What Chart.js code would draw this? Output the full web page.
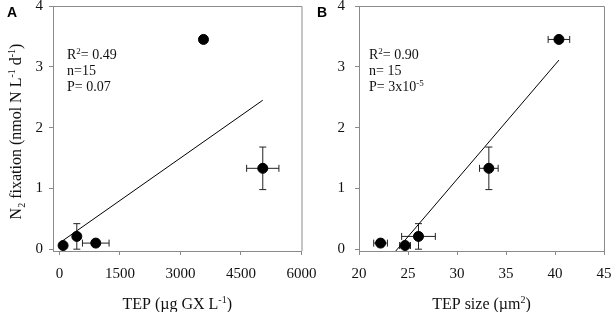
<!DOCTYPE html>
<html>
<head>
<meta charset="utf-8">
<script src="https://cdn.jsdelivr.net/npm/chart.js@4/dist/chart.umd.min.js"></script>
<style>
  body { margin: 0; background: #fff; }
  #page { position: relative; width: 612px; height: 312px; overflow: hidden; background: #fff; }
  .panel { position: absolute; top: 0; height: 312px; }
  #wrapA { left: 0; width: 330px; }
  #wrapB { left: 300px; width: 312px; }
</style>
</head>
<body>
<div id="page">
  <div class="panel" id="wrapA"><canvas id="chartA" width="330" height="312"></canvas></div>
  <div class="panel" id="wrapB"><canvas id="chartB" width="312" height="312"></canvas></div>
</div>
<script>
// samples (same five stations in both panels)
const tepConc = [90, 430, 900, 5040, 3570];          // µg GX L-1
const tepConcErr = [0, 0, 330, 400, 0];
const tepSize = [24.7, 26.07, 22.2, 33.25, 40.4];    // µm2
const tepSizeErr = [0.55, 1.72, 0.7, 0.95, 1.1];
const n2Fix = [0.06, 0.21, 0.10, 1.33, 3.45];        // nmol N L-1 d-1
const n2FixErr = [0, 0.21, 0, 0.35, 0];

// regression lines, end points
const fitAx = [60, 5040];
const fitAy = [0.13, 2.45];
const fitBx = [23.75, 40.4];
const fitBy = [-0.03, 3.11];

const xTicksA = [0, 1500, 3000, 4500, 6000];
const xTicksB = [20, 25, 30, 35, 40, 45];
const yTicks = [0, 1, 2, 3, 4];

const SERIF = '"Liberation Serif", "Times New Roman", serif';
const FRAME = '#8a8a8a';

function pts(xs, ys) { return xs.map((x, i) => ({ x: x, y: ys[i] })); }

// draws text with superscript (1) / subscript (-1) parts
function drawRich(ctx, parts, x, y, size, align) {
  const small = Math.round(size * 0.62);
  let w = 0;
  parts.forEach(p => {
    ctx.font = (p[1] ? small : size) + 'px ' + SERIF;
    w += ctx.measureText(p[0]).width;
  });
  let cx = align === 'center' ? x - w / 2 : x;
  ctx.textAlign = 'left';
  ctx.textBaseline = 'alphabetic';
  parts.forEach(p => {
    const s = p[1] ? small : size;
    ctx.font = s + 'px ' + SERIF;
    const dy = p[1] === 1 ? -size * 0.38 : (p[1] === -1 ? size * 0.22 : 0);
    ctx.fillText(p[0], cx, y + dy);
    cx += ctx.measureText(p[0]).width;
  });
}

function panelPlugin(p) {
  return {
    id: 'panel' + p.letter,
    beforeDatasetsDraw(chart) {
      const ctx = chart.ctx;
      const sx = chart.scales.x, sy = chart.scales.y;
      ctx.save();
      ctx.strokeStyle = '#222';
      ctx.lineWidth = 1;
      p.xs.forEach((xv, i) => {
        const px = sx.getPixelForValue(xv);
        const py = sy.getPixelForValue(p.ys[i]);
        const ye = p.yerr[i], xe = p.xerr[i];
        ctx.beginPath();
        if (ye) {
          const y1 = sy.getPixelForValue(p.ys[i] - ye), y2 = sy.getPixelForValue(p.ys[i] + ye);
          ctx.moveTo(px, y1); ctx.lineTo(px, y2);
          ctx.moveTo(px - 3.5, y1); ctx.lineTo(px + 3.5, y1);
          ctx.moveTo(px - 3.5, y2); ctx.lineTo(px + 3.5, y2);
        }
        if (xe) {
          const x1 = sx.getPixelForValue(xv - xe), x2 = sx.getPixelForValue(xv + xe);
          ctx.moveTo(x1, py); ctx.lineTo(x2, py);
          ctx.moveTo(x1, py - 3.5); ctx.lineTo(x1, py + 3.5);
          ctx.moveTo(x2, py - 3.5); ctx.lineTo(x2, py + 3.5);
        }
        ctx.stroke();
      });
      ctx.restore();
    },
    afterDraw(chart) {
      const ctx = chart.ctx;
      const a = chart.chartArea;
      ctx.save();
      // top and right frame
      ctx.strokeStyle = FRAME;
      ctx.lineWidth = 1;
      ctx.beginPath();
      ctx.moveTo(a.left, a.top + 0.5); ctx.lineTo(a.right + 0.5, a.top + 0.5);
      ctx.lineTo(a.right + 0.5, a.bottom);
      ctx.stroke();

      ctx.fillStyle = '#000';
      ctx.font = 'bold 14px "Liberation Sans", Arial, sans-serif';
      ctx.textAlign = 'left';
      ctx.textBaseline = 'alphabetic';
      ctx.fillText(p.letter, p.letterX, 17);

      ctx.fillStyle = '#111';
      p.notes.forEach((line, i) => drawRich(ctx, line, p.noteX, 59 + i * 16, 14, 'left'));

      drawRich(ctx, p.xTitle, (a.left + a.right) / 2, 309, 16, 'center');

      if (p.yTitle) {
        ctx.translate(21, (a.top + a.bottom) / 2 + 3);
        ctx.rotate(-Math.PI / 2);
        drawRich(ctx, p.yTitle, 0, 0, 16, 'center');
      }
      ctx.restore();
    }
  };
}

function makeChart(id, p) {
  return new Chart(document.getElementById(id), {
    type: 'scatter',
    data: {
      datasets: [
        {
          type: 'line',
          data: pts(p.fitX, p.fitY),
          borderColor: '#000',
          borderWidth: 1,
          pointRadius: 0,
          fill: false
        },
        {
          data: pts(p.xs, p.ys),
          backgroundColor: '#000',
          borderColor: '#000',
          pointRadius: 5,
          pointHoverRadius: 5
        }
      ]
    },
    options: {
      responsive: false,
      animation: false,
      events: [],
      layout: { padding: { left: 0, top: 5, right: p.padRight, bottom: 0 } },
      plugins: { legend: { display: false }, tooltip: { enabled: false } },
      scales: {
        x: {
          type: 'linear',
          min: p.xMin, max: p.xMax,
          afterBuildTicks: s => { s.ticks = p.xTicks.map(v => ({ value: v })); },
          afterFit: s => { s.height = 61; s.paddingLeft = 0; s.paddingRight = 0; },
          grid: { drawOnChartArea: false, tickLength: 4, color: FRAME },
          border: { color: FRAME },
          ticks: {
            autoSkip: false, maxRotation: 0, padding: 10, color: '#111',
            font: { family: SERIF, size: 15 },
            callback: v => String(v)
          }
        },
        y: {
          min: -0.03, max: 4,
          afterBuildTicks: s => { s.ticks = yTicks.map(v => ({ value: v })); },
          afterFit: s => { s.width = p.yWidth; s.paddingTop = 0; s.paddingBottom = 0; },
          grid: { drawOnChartArea: false, tickLength: 4, color: FRAME },
          border: { color: FRAME },
          ticks: {
            padding: p.yPad, color: '#111',
            font: { family: SERIF, size: 15 },
            callback: v => String(v)
          }
        }
      }
    },
    plugins: [panelPlugin(p)]
  });
}

makeChart('chartA', {
  letter: 'A', letterX: 7, noteX: 67,
  xs: tepConc, ys: n2Fix, xerr: tepConcErr, yerr: n2FixErr,
  fitX: fitAx, fitY: fitAy,
  xMin: -160, xMax: 6000, xTicks: xTicksA,
  yWidth: 53, yPad: 6, padRight: 28.5,
  notes: [
    [['R', 0], ['2', 1], ['= 0.49', 0]],
    [['n=15', 0]],
    [['P= 0.07', 0]]
  ],
  xTitle: [['TEP (\u00b5g GX L', 0], ['-1', 1], [')', 0]],
  yTitle: [['N', 0], ['2', -1], [' fixation (nmol N L', 0], ['-1', 1], [' d', 0], ['-1', 1], [')', 0]]
});

makeChart('chartB', {
  letter: 'B', letterX: 17, noteX: 69,
  xs: tepSize, ys: n2Fix, xerr: tepSizeErr, yerr: n2FixErr,
  fitX: fitBx, fitY: fitBy,
  xMin: 20, xMax: 45, xTicks: xTicksB,
  yWidth: 59, yPad: 10, padRight: 8,
  notes: [
    [['R', 0], ['2', 1], ['= 0.90', 0]],
    [['n= 15', 0]],
    [['P= 3x10', 0], ['-5', 1]]
  ],
  xTitle: [['TEP size (\u00b5m', 0], ['2', 1], [')', 0]],
  yTitle: null
});
</script>
</body>
</html>
